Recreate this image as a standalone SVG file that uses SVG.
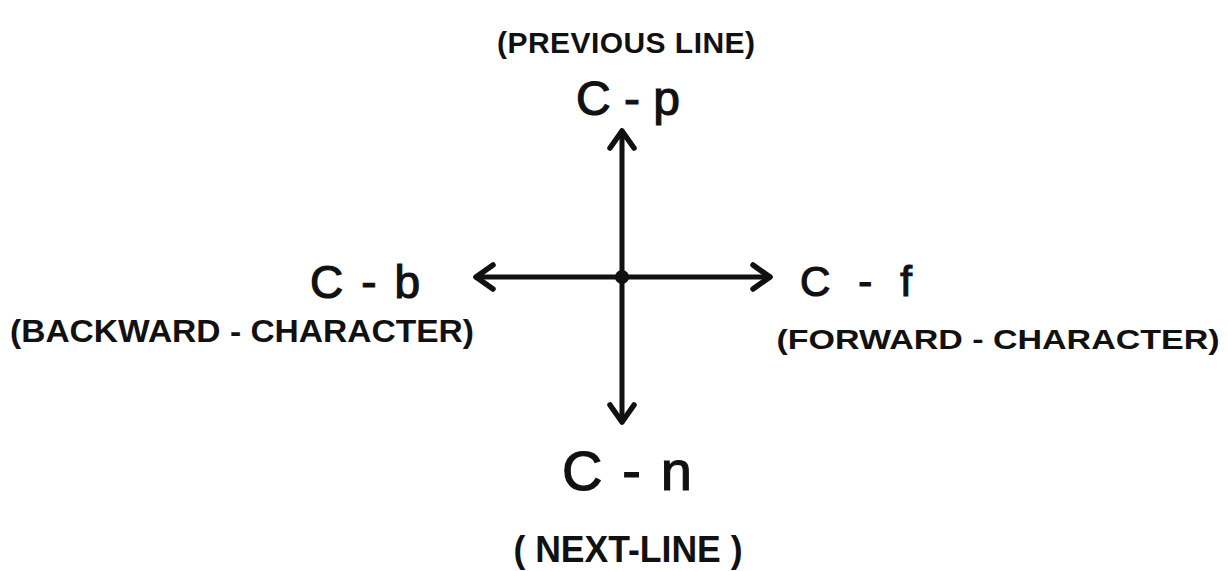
<svg xmlns="http://www.w3.org/2000/svg" width="1228" height="571" viewBox="0 0 1228 571">
  <style>
    .key { font-family: "Liberation Sans", Arial, sans-serif; fill: #111; stroke: #111; stroke-width: 1.2; text-anchor: middle; }
    .desc { font-family: "Liberation Sans", Arial, sans-serif; font-weight: bold; fill: #111; text-anchor: middle; }
    .arrow { stroke: #111; stroke-width: 5; stroke-linecap: round; fill: none; marker-end: url(#chev); }
  </style>
  <defs>
    <marker id="chev" markerUnits="userSpaceOnUse" markerWidth="40" markerHeight="40" viewBox="-25 -20 32 40" refX="0" refY="0" orient="auto">
      <path d="M -17 -12 L 0 0 L -17 12" fill="none" stroke="#111" stroke-width="5.5" stroke-linecap="round" stroke-linejoin="round"/>
    </marker>
  </defs>
  <rect width="1228" height="571" fill="#fff"/>

  <g id="connectors">
    <line class="arrow" x1="622" y1="277" x2="622" y2="131"/>
    <line class="arrow" x1="622" y1="277" x2="622" y2="422"/>
    <line class="arrow" x1="622" y1="277" x2="476" y2="277"/>
    <line class="arrow" x1="622" y1="277" x2="770" y2="277"/>
    <circle cx="622" cy="277" r="7" fill="#111"/>
  </g>

  <g id="node-up">
    <text class="desc" x="626" y="53" font-size="30" textLength="258" lengthAdjust="spacing">(PREVIOUS LINE)</text>
    <text class="key" x="628" y="115" font-size="48" textLength="104" lengthAdjust="spacing">C - p</text>
  </g>

  <g id="node-left">
    <text class="key" x="365" y="298" font-size="46" textLength="110" lengthAdjust="spacing">C - b</text>
    <text class="desc" x="242" y="342" font-size="32" textLength="464" lengthAdjust="spacingAndGlyphs">(BACKWARD - CHARACTER)</text>
  </g>

  <g id="node-right">
    <text class="key" x="856" y="296" font-size="42" textLength="112" lengthAdjust="spacing">C - f</text>
    <text class="desc" x="998" y="349" font-size="28" textLength="443" lengthAdjust="spacingAndGlyphs">(FORWARD - CHARACTER)</text>
  </g>

  <g id="node-down">
    <text class="key" x="627" y="490" font-size="56" textLength="130" lengthAdjust="spacing">C - n</text>
    <text class="desc" x="628" y="562" font-size="36" textLength="229" lengthAdjust="spacingAndGlyphs">( NEXT-LINE )</text>
  </g>
</svg>
